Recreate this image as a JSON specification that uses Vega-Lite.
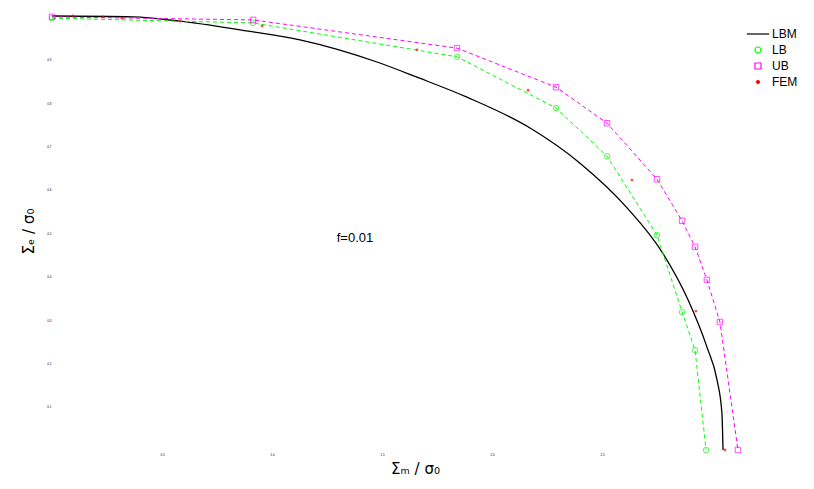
{
  "$schema": "https://vega.github.io/schema/vega-lite/v6.json",
  "width": 762,
  "height": 434,
  "autosize": {"type": "none"},
  "padding": {"left": 52, "top": 16, "right": 0, "bottom": 39},
  "background": "white",
  "config": {
    "view": {"stroke": null},
    "font": "Liberation Sans",
    "legend": {
      "orient": "none",
      "legendX": 700,
      "legendY": 12,
      "labelFontSize": 12,
      "labelFont": "Liberation Sans",
      "labelColor": "#000000",
      "symbolSize": 500,
      "rowPadding": 4,
      "symbolStrokeWidth": 1.2,
      "labelOffset": 8
    }
  },
  "datasets": {
    "lbm": [
      {"series": "LBM", "x": 0, "y": 1.0},
      {"series": "LBM", "x": 0.368, "y": 0.998},
      {"series": "LBM", "x": 0.582, "y": 0.988},
      {"series": "LBM", "x": 0.855, "y": 0.968},
      {"series": "LBM", "x": 1.127, "y": 0.945},
      {"series": "LBM", "x": 1.477, "y": 0.894},
      {"series": "LBM", "x": 1.659, "y": 0.859},
      {"series": "LBM", "x": 1.886, "y": 0.813},
      {"series": "LBM", "x": 2.173, "y": 0.742},
      {"series": "LBM", "x": 2.4, "y": 0.661},
      {"series": "LBM", "x": 2.614, "y": 0.558},
      {"series": "LBM", "x": 2.773, "y": 0.456},
      {"series": "LBM", "x": 2.891, "y": 0.346},
      {"series": "LBM", "x": 2.977, "y": 0.237},
      {"series": "LBM", "x": 3.023, "y": 0.161},
      {"series": "LBM", "x": 3.045, "y": 0.085},
      {"series": "LBM", "x": 3.05, "y": 0.0}
    ],
    "bounds": [
      {"series": "LB", "x": 0, "y": 0.995},
      {"series": "LB", "x": 0.914, "y": 0.984},
      {"series": "LB", "x": 1.841, "y": 0.906},
      {"series": "LB", "x": 2.291, "y": 0.788},
      {"series": "LB", "x": 2.523, "y": 0.677},
      {"series": "LB", "x": 2.75, "y": 0.495},
      {"series": "LB", "x": 2.864, "y": 0.318},
      {"series": "LB", "x": 2.923, "y": 0.23},
      {"series": "LB", "x": 2.973, "y": 0.0},
      {"series": "UB", "x": 0, "y": 0.998},
      {"series": "UB", "x": 0.914, "y": 0.991},
      {"series": "UB", "x": 1.841, "y": 0.926},
      {"series": "UB", "x": 2.291, "y": 0.836},
      {"series": "UB", "x": 2.523, "y": 0.753},
      {"series": "UB", "x": 2.75, "y": 0.624},
      {"series": "UB", "x": 2.864, "y": 0.528},
      {"series": "UB", "x": 2.923, "y": 0.468},
      {"series": "UB", "x": 2.977, "y": 0.392},
      {"series": "UB", "x": 3.036, "y": 0.295},
      {"series": "UB", "x": 3.118, "y": 0.0}
    ],
    "fem": [
      {"series": "FEM", "x": 0.095, "y": 1.0},
      {"series": "FEM", "x": 0.232, "y": 0.998},
      {"series": "FEM", "x": 0.318, "y": 0.995},
      {"series": "FEM", "x": 0.582, "y": 0.988},
      {"series": "FEM", "x": 0.955, "y": 0.977},
      {"series": "FEM", "x": 1.659, "y": 0.922},
      {"series": "FEM", "x": 2.164, "y": 0.829},
      {"series": "FEM", "x": 2.636, "y": 0.622},
      {"series": "FEM", "x": 2.927, "y": 0.32},
      {"series": "FEM", "x": 3.059, "y": 0.0}
    ],
    "note": [
      {"label": "f=0.01", "x": 1.377, "y": 0.488}
    ]
  },
  "encoding": {
    "x": {
      "field": "x",
      "type": "quantitative",
      "scale": {"domain": [0, 3.4636], "nice": false, "zero": false},
      "axis": {
        "title": "Σₘ / σ₀",
        "titleFont": "DejaVu Sans",
        "titleFontSize": 15,
        "titleFontWeight": "normal",
        "titleX": 363,
        "titleY": 11,
        "domain": false,
        "ticks": false,
        "grid": false,
        "values": [0.5, 1, 1.5, 2, 2.5],
        "labelFontSize": 3,
        "labelPadding": 3,
        "labelColor": "#000000"
      }
    },
    "y": {
      "field": "y",
      "type": "quantitative",
      "scale": {"domain": [0, 1], "nice": false},
      "axis": {
        "title": "Σₑ / σ₀",
        "titleFont": "DejaVu Sans",
        "titleFontSize": 15,
        "titleFontWeight": "normal",
        "titleX": -16,
        "titleY": 215,
        "titleAngle": -90,
        "domain": false,
        "ticks": false,
        "grid": false,
        "values": [0.1, 0.2, 0.3, 0.4, 0.5, 0.6, 0.7, 0.8, 0.9],
        "labelFontSize": 3,
        "labelPadding": 1,
        "labelColor": "#000000"
      }
    }
  },
  "layer": [
    {
      "data": {"name": "lbm"},
      "mark": {"type": "line", "strokeWidth": 1.3, "interpolate": "monotone"},
      "encoding": {
        "color": {
          "field": "series",
          "type": "nominal",
          "scale": {"domain": ["LBM", "LB", "UB", "FEM"], "range": ["#000000", "#00ff00", "#ff00ff", "#ff0000"]},
          "legend": {
            "title": null,
            "encode": {
              "symbols": {
                "update": {
                  "fillOpacity": {"signal": "datum.value === 'FEM' ? 1 : 0"},
                  "size": {"signal": "datum.value === 'LBM' ? 500 : datum.value === 'FEM' ? 8 : 36"},
                  "strokeWidth": {"value": 1.2}
                }
              }
            }
          }
        }
      }
    },
    {
      "data": {"name": "bounds"},
      "mark": {"type": "line", "strokeWidth": 1, "strokeDash": [4, 3]},
      "encoding": {
        "color": {"field": "series", "type": "nominal"},
        "detail": {"field": "series"}
      }
    },
    {
      "data": {"name": "bounds"},
      "mark": {"type": "point", "filled": false, "strokeWidth": 1},
      "encoding": {
        "color": {"field": "series", "type": "nominal"},
        "shape": {
          "field": "series",
          "type": "nominal",
          "scale": {"domain": ["LBM", "LB", "UB", "FEM"], "range": ["stroke", "circle", "square", "circle"]},
          "legend": {"title": null}
        },
        "size": {"value": 30}
      }
    },
    {
      "data": {"name": "fem"},
      "mark": {"type": "point", "filled": true, "size": 8},
      "encoding": {
        "color": {"field": "series", "type": "nominal"},
        "shape": {"field": "series", "type": "nominal"}
      }
    },
    {
      "data": {"name": "note"},
      "mark": {"type": "text", "fontSize": 13, "font": "Liberation Sans", "color": "#000000"},
      "encoding": {
        "text": {"field": "label"}
      }
    }
  ]
}
